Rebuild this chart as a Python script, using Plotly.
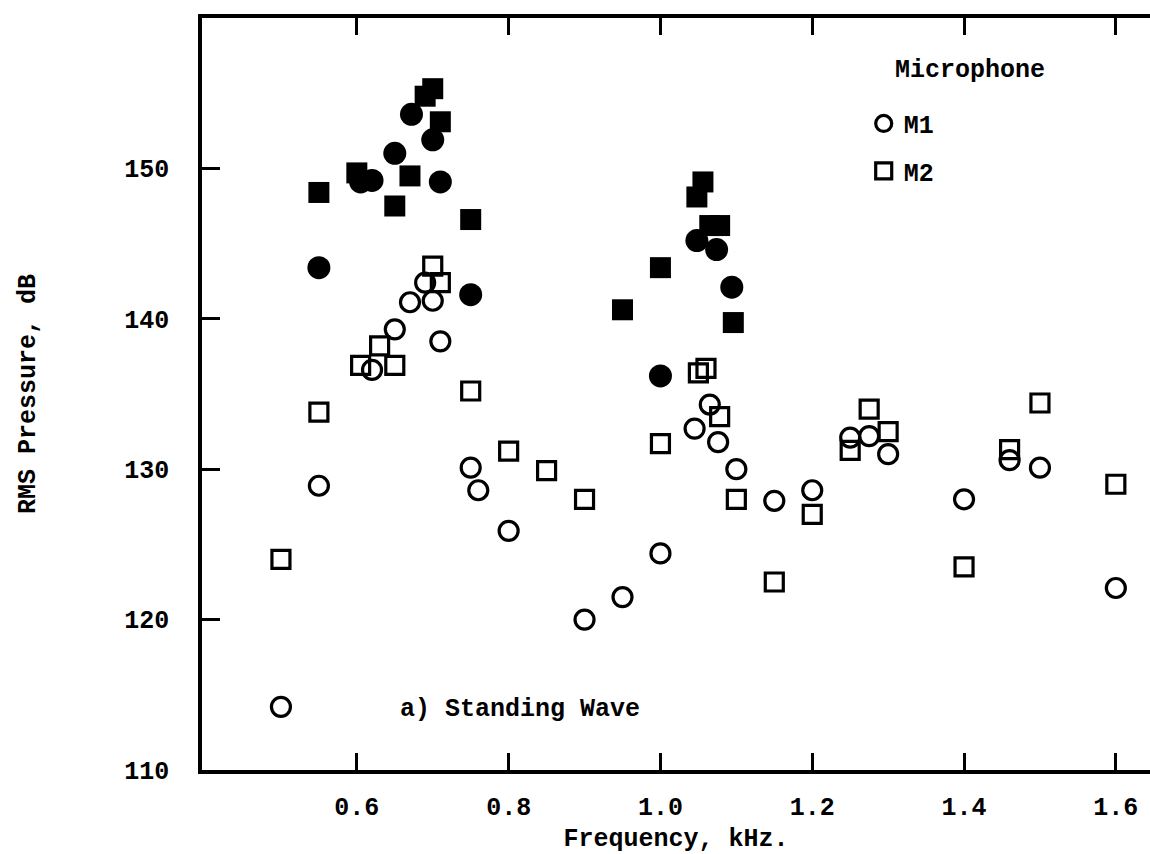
import plotly.graph_objects as go

# ---- data ----
# M1 open circles (Microphone M1)
m1_freq = [0.50, 0.55, 0.62, 0.65, 0.67, 0.69, 0.70, 0.71, 0.75, 0.76, 0.80, 0.90, 0.95, 1.00,
           1.045, 1.065, 1.076, 1.10, 1.15, 1.20, 1.25, 1.275, 1.30, 1.40, 1.46, 1.50, 1.60]
m1_db = [114.2, 128.9, 136.6, 139.3, 141.1, 142.4, 141.2, 138.5, 130.1, 128.6, 125.9, 120.0, 121.5, 124.4,
         132.7, 134.3, 131.8, 130.0, 127.9, 128.6, 132.1, 132.2, 131.0, 128.0, 130.6, 130.1, 122.1]

# M2 open squares (Microphone M2)
m2_freq = [0.50, 0.55, 0.605, 0.63, 0.65, 0.70, 0.71, 0.75, 0.80, 0.85, 0.90, 1.00, 1.05, 1.06,
           1.078, 1.10, 1.15, 1.20, 1.25, 1.275, 1.30, 1.40, 1.46, 1.50, 1.60]
m2_db = [124.0, 133.8, 136.9, 138.2, 136.9, 143.5, 142.4, 135.2, 131.2, 129.9, 128.0, 131.7, 136.4, 136.7,
         133.5, 128.0, 122.5, 127.0, 131.25, 134.0, 132.5, 123.5, 131.3, 134.4, 129.0]

# M1 filled circles
m1f_freq = [0.55, 0.605, 0.62, 0.65, 0.672, 0.70, 0.71, 0.75, 1.00, 1.048, 1.074, 1.094]
m1f_db = [143.4, 149.1, 149.2, 151.0, 153.6, 151.9, 149.1, 141.6, 136.2, 145.2, 144.6, 142.1]

# M2 filled squares
m2f_freq = [0.55, 0.60, 0.65, 0.67, 0.69, 0.70, 0.71, 0.75, 0.95, 1.00, 1.048, 1.056, 1.065, 1.078, 1.096]
m2f_db = [148.4, 149.7, 147.5, 149.5, 154.8, 155.3, 153.1, 146.6, 140.6, 143.4, 148.1, 149.1, 146.2, 146.2, 139.75]

x_ticks = [0.6, 0.8, 1.0, 1.2, 1.4, 1.6]
x_ticktext = ["0.6", "0.8", "1.0", "1.2", "1.4", "1.6"]
y_ticks = [110, 120, 130, 140, 150]
y_ticktext = ["110", "120", "130", "140", "150"]

FONT = "Liberation Mono"
BLACK = "#000000"
FS = 25

fig = go.Figure()

fig.add_trace(go.Scatter(
    x=m1_freq, y=m1_db, mode="markers", name="M1", legendgroup="m1",
    marker=dict(symbol="circle-open", size=19, color=BLACK, line=dict(width=3.2, color=BLACK)),
))
fig.add_trace(go.Scatter(
    x=m2_freq, y=m2_db, mode="markers", name="M2", legendgroup="m2",
    marker=dict(symbol="square-open", size=18, color=BLACK, line=dict(width=3.2, color=BLACK)),
))
fig.add_trace(go.Scatter(
    x=m1f_freq, y=m1f_db, mode="markers", name="M1 (filled)", showlegend=False,
    marker=dict(symbol="circle", size=23, color=BLACK, line=dict(width=0)),
))
fig.add_trace(go.Scatter(
    x=m2f_freq, y=m2f_db, mode="markers", name="M2 (filled)", showlegend=False,
    marker=dict(symbol="square", size=21, color=BLACK, line=dict(width=0)),
))

axis_font = dict(family=FONT, size=FS, color=BLACK, weight="bold")

fig.update_layout(
    width=1150, height=854,
    margin=dict(l=202, r=0, t=18, b=84, pad=0),
    paper_bgcolor="white", plot_bgcolor="white",
    font=dict(family=FONT, size=FS, color=BLACK, weight="bold"),
    xaxis=dict(
        range=[0.396, 1.645], tickvals=x_ticks, ticktext=x_ticktext,
        showgrid=False, zeroline=False,
        showline=True, linewidth=3.5, linecolor=BLACK, mirror="ticks",
        ticks="inside", ticklen=17, tickwidth=3, tickcolor=BLACK,
        tickfont=axis_font, ticklabelstandoff=11,
        title=dict(text="Frequency, kHz.", font=axis_font, standoff=14),
    ),
    yaxis=dict(
        range=[110, 160], tickvals=y_ticks, ticktext=y_ticktext,
        showgrid=False, zeroline=False,
        showline=True, linewidth=3.5, linecolor=BLACK,
        ticks="inside", ticklen=18, tickwidth=3, tickcolor=BLACK,
        tickfont=axis_font, ticklabelstandoff=24,
        title=dict(text="RMS Pressure, dB", font=axis_font, standoff=82),
    ),
    yaxis2=dict(
        range=[110, 160], tickvals=y_ticks, overlaying="y", side="right", anchor="x",
        showgrid=False, zeroline=False, showline=False, showticklabels=False,
        ticks="inside", ticklen=8, tickwidth=3, tickcolor=BLACK,
    ),
    legend=dict(
        x=0.698, y=0.89, xanchor="left", yanchor="top",
        bgcolor="rgba(0,0,0,0)", borderwidth=0,
        font=dict(family=FONT, size=FS, color=BLACK, weight="bold"),
        traceorder="grouped", tracegroupgap=12,
    ),
    showlegend=True,
    annotations=[
        dict(text="Microphone", xref="paper", yref="paper", x=0.729, y=0.93,
             xanchor="left", yanchor="middle", showarrow=False,
             font=dict(family=FONT, size=FS, color=BLACK, weight="bold")),
        dict(text="a) Standing Wave", xref="x", yref="y", x=0.654, y=114.0,
             xanchor="left", yanchor="middle", showarrow=False,
             font=dict(family=FONT, size=FS, color=BLACK, weight="bold")),
    ],
)

fig.write_html("out.html")
